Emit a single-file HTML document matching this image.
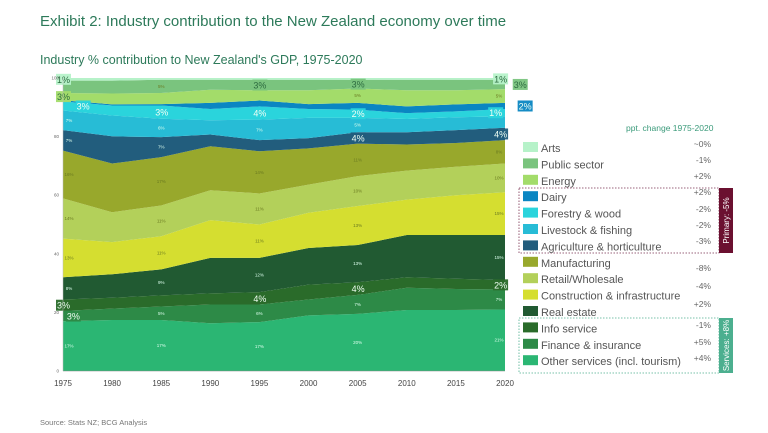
<!DOCTYPE html>
<html><head><meta charset="utf-8">
<style>
body{margin:0;background:#fff;font-family:"Liberation Sans",sans-serif;}
#wrap{position:relative;width:768px;height:433px;overflow:hidden;}
</style></head>
<body>
<div id="wrap">
<svg id="svg" width="768" height="433"></svg>
</div>
<script>
const years=[1975,1980,1985,1990,1995,2000,2005,2010,2015,2020];
const seriesNames=["Other services (incl. tourism)","Finance & insurance","Info service","Real estate","Construction & infrastructure","Retail/Wholesale","Manufacturing","Agriculture & horticulture","Livestock & fishing","Forestry & wood","Dairy","Energy","Public sector","Arts"];
const otherVals=[17,17.4,17.4,16.3,16.7,19,19.5,20.8,20.8,21];
const financeVals=[3.5,3.9,4.6,6.4,6,5.4,6.5,7.6,7.2,6.8];
const infoVals=[3.9,3.7,3.8,3.8,4.2,5.1,4.3,3.6,3.5,3.2];
const realVals=[7.6,8,8.9,12.1,11.7,12.5,12.7,14.4,14.9,15.4];
const constrVals=[13.2,11,11.3,12.9,11.4,12,13.3,12.1,13.6,14.6];
const retailVals=[13.7,10.2,10.5,10.2,10.6,9.6,10.2,9.9,9.7,9.8];
const manuVals=[16.3,16.6,16.5,15,14.4,12.4,11.1,8.9,8.1,8];
const agriVals=[7,9.3,6.8,4,3.8,3.5,3.9,4.2,4.4,4.2];
const liveVals=[6.7,7.1,6.3,4.9,7,6.9,4.9,4.5,4.4,3.9];
const forestVals=[3.1,3.4,4.5,3.8,4.5,3,2.8,2,2,2.5];
const dairyVals=[0.4,0.4,0.5,2.1,2,1.7,2.3,2.3,2.4,2.1];
const energyVals=[2.5,3.7,3.8,4.5,3.5,4.7,4.9,5.5,4.8,4.7];
const publicVals=[4.2,4.4,4.5,3.4,3.6,3.6,3,3.6,3.6,3.2];
const artsVals=[0.9,0.9,0.6,0.6,0.6,0.6,0.6,0.6,0.6,0.6];
const yTicks=[0,20,40,60,80,100];
const changeLabels=["+4%","+5%","-1%","+2%","+2%","-4%","-8%","-3%","-2%","-2%","+2%","+2%","-1%","~0%"];
const colors=["#2bb673","#2d8a47","#2a6b2a","#215a32","#d5de30","#b3d05a","#98a82c","#225d7d","#27bcd6","#2ad4dc","#0a86c2","#a3dc6a","#7ac47e","#b6f2c9"];
const allVals=[otherVals,financeVals,infoVals,realVals,constrVals,retailVals,manuVals,agriVals,liveVals,forestVals,dairyVals,energyVals,publicVals,artsVals];
const labelYears=[1975,1985,1995,2005,2020];

const NS="http://www.w3.org/2000/svg";
const svg=document.getElementById('svg');
const X0=63,X1=505,Y0=371,Y1=78;
function xs(y){return X0+(y-1975)/(2020-1975)*(X1-X0);}
function ys(v){return Y0-v/100*(Y0-Y1);}
function mk(tag,attrs,parent){const e=document.createElementNS(NS,tag);for(const k in attrs)e.setAttribute(k,attrs[k]);(parent||svg).appendChild(e);return e;}

function txt(x,y,s,size,fill,anchor,weight){const t=mk('text',{x:x,y:y,'font-size':size,fill:fill,'text-anchor':anchor||'start','font-family':'Liberation Sans, sans-serif'});if(weight)t.setAttribute('font-weight',weight);t.textContent=s;return t;}

let t1=txt(40,26,"Exhibit 2: Industry contribution to the New Zealand economy over time",15,"#2d7a5a");


let t2=txt(40,64,"Industry % contribution to New Zealand's GDP, 1975-2020",12.5,"#2d7a5a");


let t3=txt(40,425,"Source: Stats NZ; BCG Analysis",7.5,"#777");



// stacked areas
const base=years.map(()=>0);
const cumTop=[];
allVals.forEach((vals,i)=>{
  const lower=base.slice();
  const upper=base.map((b,j)=>b+vals[j]);
  cumTop.push({lower:lower,upper:upper});
  let d="M"+years.map((y,j)=>xs(y)+","+ys(upper[j])).join(" L");
  for(let j=years.length-1;j>=0;j--)d+=" L"+xs(years[j])+","+ys(lower[j]);
  d+="Z";
  const p=mk('path',{d:d,fill:colors[i]});
  
  
  for(let j=0;j<base.length;j++)base[j]=upper[j];
});

// small value labels
const darkText=[false,false,false,false,true,true,true,false,false,false,false,true,true,true];
cumTop.forEach((c,i)=>{
  labelYears.forEach(ly=>{
    const j=years.indexOf(ly);
    const v=allVals[i][j];
    if(v<4.5)return;
    let x=xs(ly); if(ly===1975)x+=6; if(ly===2020)x-=6;
    const t=txt(x,ys((c.lower[j]+c.upper[j])/2)+1.5,Math.round(v)+"%",4.5,darkText[i]?"#6a7a20":"#dfe",'middle');
    
    
  });
});

// callouts
const callouts=[[1975,13,"1%",0],[1975,11,"3%",0],[1977,9,"3%",1],[1975,2,"3%",0],[1976,1,"3%",1],
[1985,9,"3%",1],[1995,12,"3%",0],[1995,9,"4%",1],[1995,2,"4%",0],
[2005,12,"3%",0],[2005,9,"2%",1],[2005,7,"4%",0],[2005,2,"4%",0],
[2019.5,13,"1%",0],[2021.5,12,"3%",0],[2022,10,"2%",1],[2019,9,"1%",1],[2019.5,7,"4%",0],[2019.5,2,"2%",0]];
callouts.forEach(c=>{
  const i=c[1],j=Math.min(years.length-1,Math.max(0,Math.round((c[0]-1975)/5)));
  const x=xs(c[0]),y=ys((cumTop[i].lower[j]+cumTop[i].upper[j])/2);
  const r=mk('rect',{x:x-7,y:y-5.5,width:15,height:11,fill:colors[i],opacity:0.95});
  
  
  const t=txt(x+0.5,y+3.5,c[2],9,(i>=11)?"#2d6a40":"#f0fff4",'middle');
  
  
});

// axes
const ax=mk('line',{x1:X0,y1:Y0,x2:X1,y2:Y0,stroke:'#888','stroke-width':0.6});


const ay=mk('line',{x1:X0,y1:Y1,x2:X0,y2:Y0,stroke:'#bbb','stroke-width':0.5});


yTicks.forEach(v=>{
  const t=txt(X0-4,ys(v)+1.5,String(v),4.5,"#666",'end');
  
  
});
years.forEach(y=>{
  const t=txt(xs(y),386,String(y),8,"#444",'middle');
  
  
});

// legend
const h=txt(626,131,"ppt. change 1975-2020",8.5,"#3a9a7a");


const pb=mk('rect',{x:519,y:188,width:200,height:65,fill:'none',stroke:'#7a3050','stroke-width':0.8,'stroke-dasharray':'1.5,1.5'});


const pl=mk('rect',{x:719,y:188,width:14,height:65,fill:'#6b1030'});


const ptx=txt(0,0,"Primary: -5%",8,"#fff",'middle');
ptx.setAttribute('transform','translate(729,220.5) rotate(-90)');


const sb=mk('rect',{x:519,y:318,width:200,height:55,fill:'none',stroke:'#4caf8f','stroke-width':0.8,'stroke-dasharray':'1.5,1.5'});


const sl=mk('rect',{x:719,y:318,width:14,height:55,fill:'#4caf8f'});


const stx=txt(0,0,"Services: +8%",8,"#fff",'middle');
stx.setAttribute('transform','translate(729,345.5) rotate(-90)');


const chY=[146,162,178,195,211,227,244,266,283,301,320,340,357];
for(let k=0;k<14;k++){
  const i=13-k;
  const y=142+k*16.4;
  const s=mk('rect',{x:523,y:y,width:15,height:10,fill:colors[i]});
  
  
  const t=txt(541,y+10,seriesNames[i],11,"#555");
  
  
}
const chg=["~0%","-1%","+2%","+2%","-2%","-2%","-3%","-8%","-4%","+2%","-1%","+5%","+4%"];
const chgY=[145,161,177,193,210,226,242,269,287,305,326,343,359];
chg.forEach((c,k)=>{
  const t=txt(711,chgY[k]+2,c,8.5,"#666",'end');
  
  
});
</script>
</body></html>
